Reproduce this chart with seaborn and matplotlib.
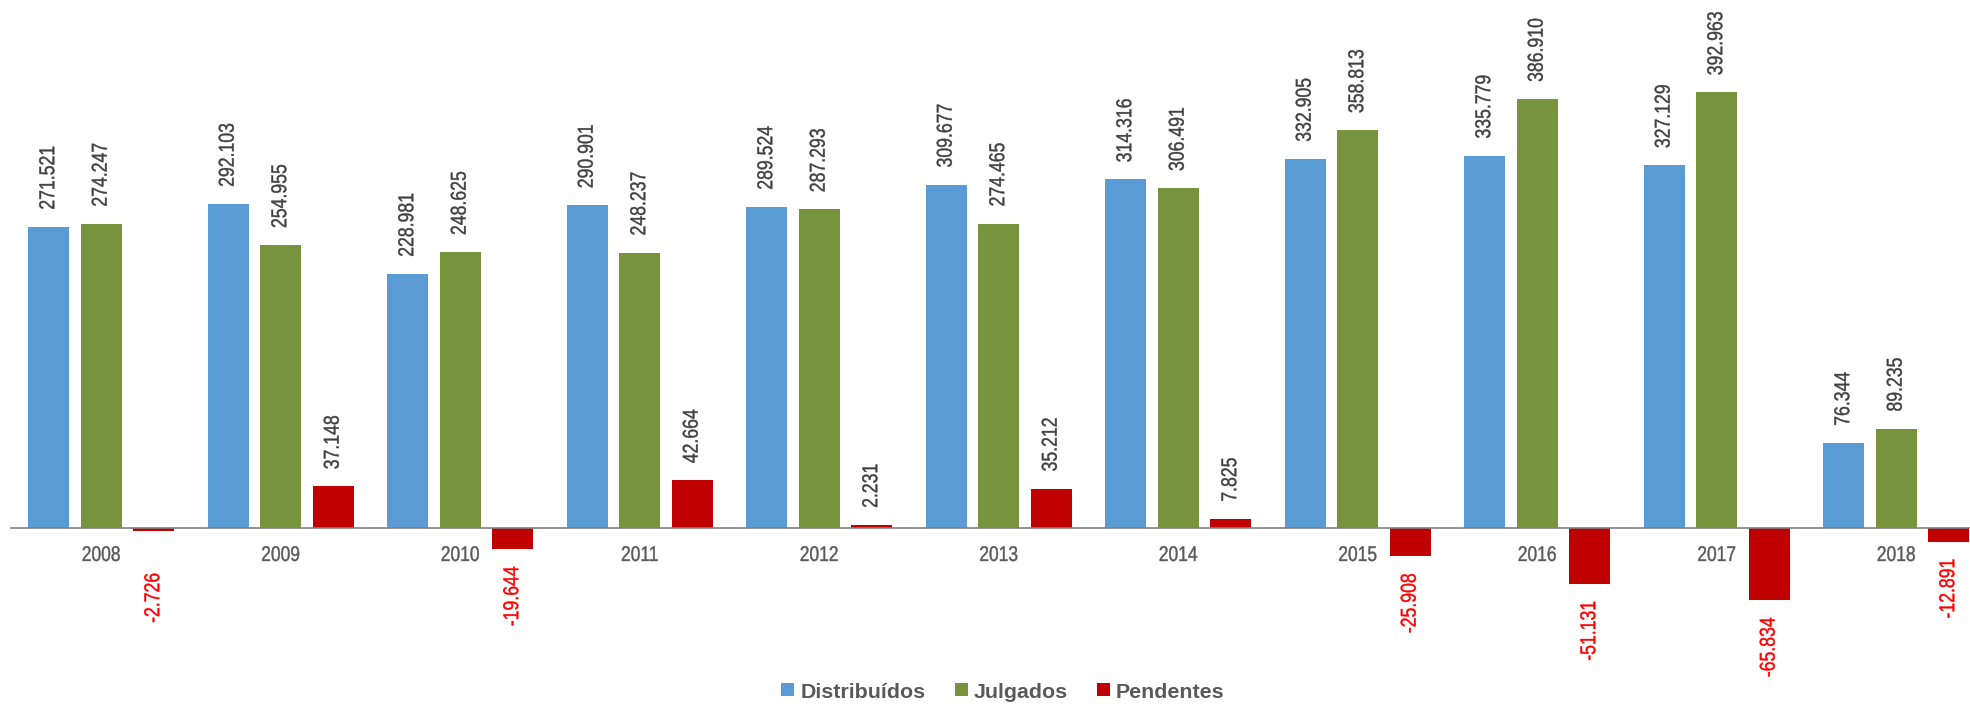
import matplotlib
matplotlib.use("Agg")
import matplotlib.pyplot as plt
import seaborn as sns
import pandas as pd
from matplotlib.patheffects import AbstractPathEffect
from matplotlib.transforms import Affine2D

# Yearly figures: cases filed, cases decided and the resulting backlog change
anos = ["2008", "2009", "2010", "2011", "2012", "2013", "2014", "2015", "2016", "2017", "2018"]
distribuidos = [271521, 292103, 228981, 290901, 289524, 309677, 314316, 332905, 335779, 327129, 76344]
julgados = [274247, 254955, 248625, 248237, 287293, 274465, 306491, 358813, 386910, 392963, 89235]
pendentes = [-2726, 37148, -19644, 42664, 2231, 35212, 7825, -25908, -51131, -65834, -12891]
series = ["Distribuídos", "Julgados", "Pendentes"]
cores = ["#5B9BD5", "#77933C", "#C00000"]

# extra downward shift (points) for a label that sits next to a year label
deslocamento_extra = {"2008": 18}

plt.rcParams["font.family"] = ["Liberation Sans", "DejaVu Sans"]


class Estreito(AbstractPathEffect):
    """Draw text condensed along its baseline, keeping one point of it fixed
    (0 = start of the string, 0.5 = middle, 1 = end), with a thin outline
    in the text colour to keep the strokes solid."""

    def __init__(self, fator=0.82, ancora=0.5, espessura=0.3):
        super().__init__()
        self.fator = fator
        self.ancora = ancora
        self.espessura = espessura

    def draw_path(self, renderer, gc, tpath, affine, rgbFace=None):
        ext = tpath.get_extents()
        x0 = ext.x0 + self.ancora * ext.width
        t = Affine2D().translate(-x0, 0).scale(self.fator, 1).translate(x0, 0) + affine
        gc0 = renderer.new_gc()
        gc0.copy_properties(gc)
        if rgbFace is not None and self.espessura > 0:
            gc0.set_foreground(rgbFace)
            gc0.set_linewidth(self.espessura)
        renderer.draw_path(gc0, tpath, t, rgbFace)
        gc0.restore()


df = pd.DataFrame({
    "ano": anos * 3,
    "serie": [s for s in series for _ in anos],
    "valor": distribuidos + julgados + pendentes,
})

fig = plt.figure(figsize=(19.70, 7.06), dpi=100)
W, H = 1970, 706
left_px = 11.45
ax = fig.add_axes([left_px / W, 0.0, 1.0 - left_px / W, 1.0])

sns.barplot(data=df, x="ano", y="valor", hue="serie", hue_order=series,
            palette=cores, width=0.8775, gap=0.2137, saturation=1,
            errorbar=None, ax=ax, legend=True)

handles, labels = ax.get_legend_handles_labels()
ax.get_legend().remove()

px_per_unit = 1 / 903.0
zero_px = 527.5
ax.set_ylim(-(H - zero_px) / px_per_unit, zero_px / px_per_unit)
ax.set_xlim(-0.5, (W - 101.2) / 179.5)


def fmt(v):
    return f"{v:,}".replace(",", ".")


for cont, serie in zip(ax.containers, series):
    for bar, ano in zip(cont, anos):
        v = bar.get_height()
        x = bar.get_x() + bar.get_width() / 2
        if v >= 0:
            ax.annotate(fmt(int(round(v))), (x, v), xytext=(0, 12.2),
                        textcoords="offset points", rotation=90,
                        ha="center", va="bottom", fontsize=15.5,
                        color="#404040",
                        path_effects=[Estreito(0.82, 0.0)])
        else:
            extra = deslocamento_extra.get(ano, 0) if serie == "Pendentes" else 0
            ax.annotate(fmt(int(round(v))), (x, v), xytext=(0, -12.2 - extra),
                        textcoords="offset points", rotation=90,
                        ha="center", va="top", fontsize=15.5,
                        color="#FF0000",
                        path_effects=[Estreito(0.82, 1.0)])

for s in ["top", "right", "left"]:
    ax.spines[s].set_visible(False)
ax.spines["bottom"].set_position(("data", 0))
ax.spines["bottom"].set_color("#808080")
ax.spines["bottom"].set_linewidth(1.2)
ax.spines["bottom"].set_zorder(3)
ax.set_yticks([])
ax.set_xlabel("")
ax.set_ylabel("")
ax.tick_params(axis="x", length=0, pad=13.3, labelsize=15.3, labelcolor="#595959")
for t in ax.get_xticklabels():
    t.set_path_effects([Estreito(0.82, 0.5)])
ax.patch.set_alpha(0)

leg = fig.legend(handles, labels, loc="center",
                 bbox_to_anchor=(1003 / W, 1 - 692 / H), ncol=3, frameon=False,
                 prop={"family": ["Liberation Sans", "DejaVu Sans"], "weight": "bold", "size": 15.4},
                 handlelength=0.608, handleheight=0.558, handletextpad=0.28,
                 columnspacing=1.36, borderpad=0, borderaxespad=0)
for t in leg.get_texts():
    t.set_color("#595959")

fig.savefig("out.png", dpi=100, facecolor="white")
